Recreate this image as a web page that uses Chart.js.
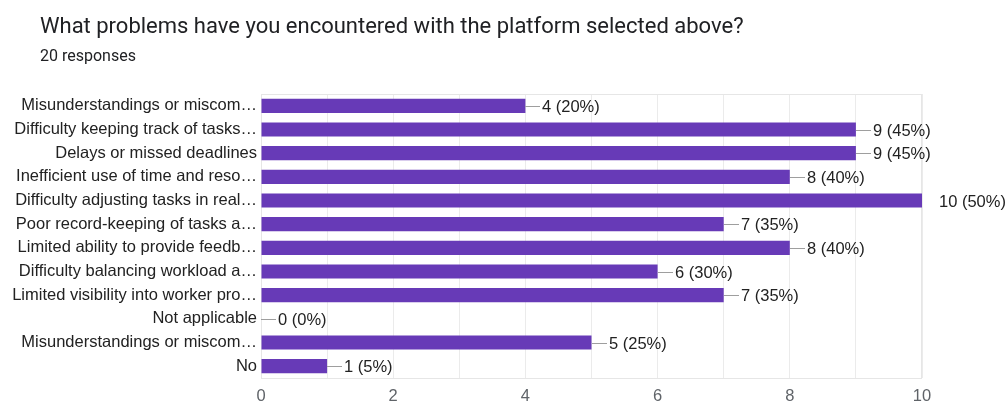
<!DOCTYPE html>
<html>
<head>
<meta charset="utf-8">
<script src="https://cdn.jsdelivr.net/npm/chart.js@4"></script>
<style>
  body { margin: 0; background: #fff; }
  #cabecera { position: absolute; left: 40px; top: 0; font-family: Roboto, sans-serif; color: #202124; }
  #titulo { position: absolute; top: 13px; font-size: 22px; white-space: nowrap; }
  #respuestas { position: absolute; top: 46px; font-size: 16px; white-space: nowrap; }
  #contenedor { position: absolute; left: 0; top: 0; width: 1005px; height: 401px; }
</style>
</head>
<body>
<div id="contenedor"><canvas id="grafica-problemas"></canvas></div>
<div id="cabecera">
  <div id="titulo">What problems have you encountered with the platform selected above?</div>
  <div id="respuestas">20 responses</div>
</div>
<script>
// Respuestas del formulario
const totalRespuestas = 20;

const categorias = [
    'Misunderstandings or miscom…',
    'Difficulty keeping track of tasks…',
    'Delays or missed deadlines',
    'Inefficient use of time and reso…',
    'Difficulty adjusting tasks in real…',
    'Poor record-keeping of tasks a…',
    'Limited ability to provide feedb…',
    'Difficulty balancing workload a…',
    'Limited visibility into worker pro…',
    'Not applicable',
    'Misunderstandings or miscom…',
    'No'
];

const valores = [4, 9, 9, 8, 10, 7, 8, 6, 7, 0, 5, 1];

const ticksEje = [0, 2, 4, 6, 8, 10];

const fuenteArial = '"Liberation Sans", Arial, sans-serif';

//--------------------------------------------------
// Marco gris claro del area y etiquetas "n (x%)" al final de cada barra
const etiquetasBarras = {
    id: 'etiquetasBarras',
    beforeDatasetsDraw(chart) {
        const {ctx, chartArea: {top, bottom, left, right}} = chart;
        ctx.save();
        ctx.strokeStyle = '#e6e6e6';
        ctx.lineWidth = 1;
        ctx.strokeRect(left + 0.5, top + 0.5, right - left - 1, bottom - top);
        ctx.restore();
    },
    afterDatasetsDraw(chart) {
        const {ctx, chartArea: {right}} = chart;
        const barras = chart.getDatasetMeta(0).data;
        ctx.save();
        ctx.font = '16.5px ' + fuenteArial;
        ctx.textBaseline = 'middle';
        ctx.textAlign = 'left';
        barras.forEach(function (barra, i) {
            const v = valores[i];
            const x = Math.round(barra.x);
            const y = Math.round(barra.y) + 0.5;
            if (x < right - 1) {
                ctx.strokeStyle = '#9e9e9e';
                ctx.lineWidth = 1;
                ctx.beginPath();
                ctx.moveTo(x, y);
                ctx.lineTo(x + 15, y);
                ctx.stroke();
            }
            ctx.fillStyle = '#222222';
            ctx.fillText(v + ' (' + Math.round(v / totalRespuestas * 100) + '%)', x + 17, y + 1);
        });
        ctx.restore();
    }
};
//--------------------------------------------------

const datos = {
    labels: categorias,
    datasets: [{
        data: valores,
        backgroundColor: '#673ab7',
        borderWidth: 0,
        barPercentage: 0.6,
        categoryPercentage: 1
    }]
};

const opciones = {
    indexAxis: 'y',
    responsive: true,
    maintainAspectRatio: false,
    animation: false,
    layout: { padding: { top: 94, right: 83, bottom: 0, left: 0 } },
    plugins: {
        legend: { display: false },
        tooltip: { enabled: false }
    },
    scales: {
        x: {
            min: 0,
            max: 10,
            afterFit(scale) { scale.height = 23; },
            afterBuildTicks(scale) {
                scale.ticks = [];
                for (let v = 0; v <= 10; v++) scale.ticks.push({ value: v });
            },
            grid: {
                drawTicks: false,
                color: function (c) { return c.tick.value === 0 ? '#333333' : '#ebebeb'; }
            },
            border: { display: false },
            ticks: {
                padding: 9,
                color: '#5f6368',
                font: { size: 16.5, family: fuenteArial },
                callback: function (value) {
                    return ticksEje.includes(value) ? String(value) : '';
                }
            }
        },
        y: {
            afterFit(scale) { scale.width = 261; },
            grid: { display: false, drawTicks: false },
            border: { display: false },
            ticks: {
                padding: 4,
                color: '#222222',
                autoSkip: false,
                font: { size: 16.5, family: fuenteArial }
            }
        }
    }
};

new Chart(document.getElementById('grafica-problemas'), {
    type: 'bar',
    data: datos,
    options: opciones,
    plugins: [etiquetasBarras]
});
</script>
</body>
</html>
